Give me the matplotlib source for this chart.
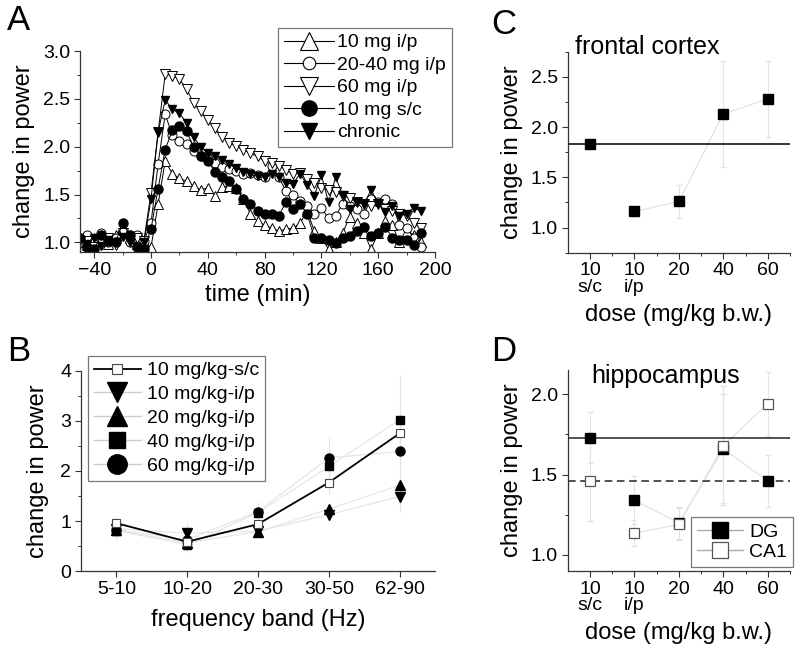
import matplotlib.pyplot as plt
from matplotlib.lines import Line2D
from matplotlib.ticker import MultipleLocator, FixedLocator

plt.rcParams['font.family'] = ['Liberation Sans', 'DejaVu Sans']

# ---------------- panel A: time course ----------------
time_min = [-50, -45, -40, -35, -30, -25, -20, -15, -10, -5,
            0, 5, 10, 15, 20, 25, 30, 35, 40, 45, 50, 55, 60, 65, 70, 75, 80, 85, 90, 95,
            100, 105, 110, 115, 120, 125, 130, 135, 140, 145, 150, 155, 160, 165, 170,
            175, 180, 185, 190]
ip10 = [1.00, 0.97, 1.05, 1.02, 0.98, 1.08, 1.15, 1.05, 0.98, 1.00,
        0.95, 1.40, 1.85, 1.72, 1.67, 1.64, 1.59, 1.55, 1.57, 1.49, 1.58, 1.59, 1.57,
        1.45, 1.30, 1.22, 1.18, 1.15, 1.12, 1.14, 1.15, 1.20, 1.33, 1.12, 1.05, 0.93,
        1.00, 1.10, 1.27, 1.20, 1.10, 0.93, 1.10, 1.22, 1.18, 1.00, 1.12, 1.08, 1.00]
ip2040 = [1.05, 1.08, 1.02, 1.10, 1.00, 1.05, 1.12, 1.00, 1.08, 1.02,
          1.20, 1.82, 2.34, 2.12, 2.06, 2.03, 1.95, 1.90, 1.87, 1.83, 1.79, 1.77, 1.75,
          1.72, 1.73, 1.70, 1.68, 1.80, 1.68, 1.54, 1.50, 1.43, 1.38, 1.30, 1.36, 1.25,
          1.28, 1.40, 1.38, 1.35, 1.30, 1.45, 1.42, 1.45, 1.40, 1.18, 1.15, 1.05, 0.95]
ip60 = [0.98, 1.02, 0.95, 1.00, 1.05, 0.97, 1.10, 1.00, 1.05, 1.02,
        1.52, 2.15, 2.76, 2.74, 2.71, 2.60, 2.46, 2.37, 2.28, 2.20, 2.10, 2.04, 2.01,
        1.97, 1.93, 1.90, 1.85, 1.83, 1.80, 1.76, 1.71, 1.73, 1.66, 1.62, 1.57, 1.55,
        1.53, 1.49, 1.46, 1.42, 1.40, 1.38, 1.40, 1.35, 1.33, 1.30, 1.28, 1.20, 1.15]
sc10 = [1.05, 0.95, 0.93, 1.08, 1.02, 1.00, 1.20, 1.08, 0.95, 0.93,
        1.14, 1.56, 1.97, 2.17, 2.22, 2.16, 2.00, 1.90, 1.85, 1.74, 1.68, 1.64, 1.56,
        1.45, 1.40, 1.33, 1.30, 1.30, 1.28, 1.42, 1.35, 1.40, 1.30, 1.05, 1.05, 1.03,
        0.99, 1.05, 1.07, 1.12, 1.16, 1.07, 1.10, 1.16, 1.05, 1.03, 1.03, 0.97, 1.10]
chronic = [1.02, 0.98, 1.05, 0.96, 1.03, 1.00, 1.06, 1.02, 0.95, 1.00,
           1.45, 2.15, 2.49, 2.39, 2.35, 2.25, 2.10, 2.00, 1.93, 1.90, 1.86, 1.82, 1.78,
           1.74, 1.71, 1.69, 1.68, 1.72, 1.68, 1.62, 1.61, 1.72, 1.60, 1.49, 1.70, 1.42,
           1.68, 1.50, 1.35, 1.42, 1.40, 1.55, 1.40, 1.32, 1.38, 1.28, 1.30, 1.36, 1.33]
labels_a = ['10 mg i/p', '20-40 mg i/p', '60 mg i/p', '10 mg s/c', 'chronic']

# ---------------- panel B: frequency bands ----------------
bands = ['5-10', '10-20', '20-30', '30-50', '62-90']
b_sc10 = [0.96, 0.59, 0.94, 1.77, 2.75]
b_ip10 = [0.85, 0.76, 0.80, 1.13, 1.49]
b_ip20 = [0.82, 0.57, 0.79, 1.24, 1.72]
b_ip40 = [0.81, 0.53, 1.17, 2.09, 3.02]
b_ip60 = [0.83, 0.63, 1.19, 2.26, 2.39]
b_sc10_err = [0.12, 0.15, 0.15, 0.25, 0.35]
b_ip10_err = [0.10, 0.20, 0.10, 0.10, 0.30]
b_ip20_err = [0.10, 0.10, 0.10, 0.10, 0.30]
b_ip40_err = [0.15, 0.15, 0.20, 0.45, 0.90]
b_ip60_err = [0.20, 0.20, 0.20, 0.40, 0.70]
labels_b = ['10 mg/kg-s/c', '10 mg/kg-i/p', '20 mg/kg-i/p', '40 mg/kg-i/p', '60 mg/kg-i/p']

# ---------------- panels C, D: dose ----------------
doses = ['10\ns/c', '10\ni/p', '20', '40', '60']
cortex = [1.83, 1.16, 1.26, 2.13, 2.28]
cortex_err = [0.05, 0.04, 0.16, 0.53, 0.38]
dg = [1.73, 1.34, 1.20, 1.66, 1.46]
dg_err = [0.16, 0.15, 0.10, 0.34, 0.16]
ca1 = [1.46, 1.135, 1.19, 1.68, 1.94]
ca1_err = [0.25, 0.08, 0.10, 0.37, 0.20]

LGRAY = '#e3e3e3'   # connecting lines / error bars, very faint in the original
TICK = 14
LAB = 17

fig = plt.figure(figsize=(8, 6.59), dpi=100)
W, H = 800, 659


def box(l, t, r, b):
    return [l / W, 1 - b / H, (r - l) / W, (b - t) / H]


def style(ax):
    for s in ['top', 'right']:
        ax.spines[s].set_visible(False)
    for s in ['left', 'bottom']:
        ax.spines[s].set_linewidth(0.9)
        ax.spines[s].set_color('#333333')
    ax.tick_params(direction='out', length=4, width=0.8, labelsize=TICK, pad=3,
                   color='#333333')
    ax.tick_params(which='minor', direction='out', length=2.5, width=0.7, color='#333333')


# ================= A =================
axA = fig.add_axes(box(80, 51, 435, 252))
style(axA)
ms = 6.5
axA.plot(time_min, ip10, '-', color='k', lw=0.7, marker='^', ms=ms, mfc='white', mec='k', mew=0.7)
axA.plot(time_min, ip2040, '-', color='k', lw=0.7, marker='o', ms=ms, mfc='white', mec='k', mew=0.7)
axA.plot(time_min, ip60, '-', color='k', lw=0.7, marker='v', ms=ms, mfc='white', mec='k', mew=0.7)
axA.plot(time_min, sc10, '-', color='k', lw=0.7, marker='o', ms=ms, mfc='k', mec='k')
axA.plot(time_min, chronic, '-', color='k', lw=0.7, marker='v', ms=ms - 0.5, mfc='k', mec='k')
axA.set_xlim(-50, 200)
axA.set_ylim(0.9, 3.0)
axA.xaxis.set_major_locator(MultipleLocator(40))
axA.xaxis.set_minor_locator(MultipleLocator(20))
axA.yaxis.set_major_locator(FixedLocator([1.0, 1.5, 2.0, 2.5, 3.0]))
axA.yaxis.set_minor_locator(MultipleLocator(0.25))
axA.yaxis.set_major_formatter(plt.FuncFormatter(lambda v, p: f'{v:.1f}'))
axA.set_xlabel('time (min)', fontsize=LAB, labelpad=4)
axA.set_ylabel('change in power', fontsize=LAB, labelpad=6)

hA = [Line2D([], [], color='k', lw=0.8, marker='^', ms=13, mfc='white', mec='k', mew=0.8),
      Line2D([], [], color='k', lw=0.8, marker='o', ms=9, mfc='white', mec='k', mew=0.8),
      Line2D([], [], color='k', lw=0.8, marker='v', ms=13, mfc='white', mec='k', mew=0.8),
      Line2D([], [], color='k', lw=0.8, marker='o', ms=11, mfc='k', mec='k'),
      Line2D([], [], color='k', lw=0.8, marker='v', ms=12, mfc='k', mec='k')]
legA = axA.legend(hA, labels_a, loc='upper left', bbox_to_anchor=(278 / W, 1 - 28 / H),
                  bbox_transform=fig.transFigure, fontsize=14, frameon=True, fancybox=False,
                  edgecolor='#777777', framealpha=1, handlelength=2.6, handletextpad=0.15,
                  labelspacing=0.25, borderpad=0.3, borderaxespad=0)
legA.get_frame().set_linewidth(0.9)

# ================= B =================
axB = fig.add_axes(box(81, 370.7, 435, 571.3))
style(axB)
xb = list(range(len(bands)))
for vals, err in [(b_ip10, b_ip10_err), (b_ip20, b_ip20_err), (b_ip40, b_ip40_err),
                  (b_ip60, b_ip60_err), (b_sc10, b_sc10_err)]:
    axB.errorbar(xb, vals, yerr=err, fmt='none', ecolor=LGRAY, elinewidth=0.8, capsize=0, zorder=1)
for vals in [b_ip10, b_ip20, b_ip40, b_ip60]:
    axB.plot(xb, vals, '-', color=LGRAY, lw=0.8, zorder=2)
axB.plot(xb, b_ip10, 'v', color='k', ms=7, zorder=3)
axB.plot(xb, b_ip20, '^', color='k', ms=7, zorder=3)
axB.plot(xb, b_ip40, 's', color='k', ms=6, zorder=3)
axB.plot(xb, b_ip60, 'o', color='k', ms=6.5, zorder=3)
axB.plot(xb, b_sc10, '-', color='k', lw=1.3, marker='s', ms=6, mfc='white', mec='#444444',
         mew=0.8, zorder=4)
axB.set_xlim(-0.5, 4.5)
axB.set_ylim(0, 4)
axB.set_xticks(xb)
axB.set_xticklabels(bands)
axB.yaxis.set_major_locator(MultipleLocator(1))
axB.yaxis.set_minor_locator(MultipleLocator(0.5))
axB.set_xlabel('frequency band (Hz)', fontsize=LAB, labelpad=8)
axB.set_ylabel('change in power', fontsize=LAB, labelpad=8)

hB = [Line2D([], [], color='k', lw=1.3, marker='s', ms=7.5, mfc='white', mec='#444444', mew=0.8),
      Line2D([], [], color='#cccccc', lw=1.0, marker='v', ms=14, mfc='k', mec='k'),
      Line2D([], [], color='#cccccc', lw=1.0, marker='^', ms=14, mfc='k', mec='k'),
      Line2D([], [], color='#cccccc', lw=1.0, marker='s', ms=12, mfc='k', mec='k'),
      Line2D([], [], color='#cccccc', lw=1.0, marker='o', ms=14, mfc='k', mec='k')]
legB = axB.legend(hB, labels_b, loc='upper left', bbox_to_anchor=(88 / W, 1 - 356 / H),
                  bbox_transform=fig.transFigure, fontsize=14, frameon=True, fancybox=False,
                  edgecolor='#777777', framealpha=1, handlelength=2.4, handletextpad=0.35,
                  labelspacing=0.32, borderpad=0.3, borderaxespad=0)
legB.get_frame().set_linewidth(0.9)

# ================= C =================
axC = fig.add_axes(box(567.7, 51.7, 790, 252.7))
style(axC)
xd = list(range(len(doses)))
axC.errorbar(xd, cortex, yerr=cortex_err, fmt='none', ecolor=LGRAY, elinewidth=0.8,
             capsize=2, zorder=1)
axC.plot(xd[1:], cortex[1:], '-', color=LGRAY, lw=0.9, zorder=2)
axC.axhline(cortex[0], color='k', lw=1.1, zorder=2)
axC.plot(xd, cortex, 's', color='k', ms=7.5, zorder=3)
axC.set_xlim(-0.5, 4.5)
axC.set_ylim(0.75, 2.75)
axC.set_xticks(xd)
axC.set_xticklabels(doses, linespacing=0.95)
axC.xaxis.set_minor_locator(FixedLocator([0.5, 1.5, 2.5, 3.5, 4.5]))
axC.yaxis.set_major_locator(FixedLocator([1.0, 1.5, 2.0, 2.5]))
axC.yaxis.set_minor_locator(MultipleLocator(0.25))
axC.yaxis.set_major_formatter(plt.FuncFormatter(lambda v, p: f'{v:.1f}'))
axC.set_xlabel('dose (mg/kg b.w.)', fontsize=LAB, labelpad=6)
axC.set_ylabel('change in power', fontsize=LAB, labelpad=6)
fig.text(575 / W, 1 - 54 / H, 'frontal cortex', fontsize=18, va='baseline')

# ================= D =================
axD = fig.add_axes(box(567.7, 370, 790, 571))
style(axD)
axD.errorbar(xd, dg, yerr=dg_err, fmt='none', ecolor=LGRAY, elinewidth=0.8, capsize=2, zorder=1)
axD.errorbar(xd, ca1, yerr=ca1_err, fmt='none', ecolor=LGRAY, elinewidth=0.8, capsize=2, zorder=1)
axD.plot(xd[1:], dg[1:], '-', color=LGRAY, lw=0.9, zorder=2)
axD.plot(xd[1:], ca1[1:], '-', color=LGRAY, lw=0.9, zorder=2)
axD.axhline(dg[0], color='#222222', lw=1.1, zorder=2)
axD.axhline(ca1[0], color='#222222', lw=1.1, ls=(0, (5, 3)), zorder=2)
axD.plot(xd, dg, 's', color='k', ms=7.5, zorder=3)
axD.plot(xd, ca1, 's', ms=7.5, mfc='white', mec='#555555', mew=0.9, zorder=4)
axD.set_xlim(-0.5, 4.5)
axD.set_ylim(0.9, 2.15)
axD.set_xticks(xd)
axD.set_xticklabels(doses, linespacing=0.95)
axD.xaxis.set_minor_locator(FixedLocator([0.5, 1.5, 2.5, 3.5, 4.5]))
axD.yaxis.set_major_locator(FixedLocator([1.0, 1.5, 2.0]))
axD.yaxis.set_minor_locator(MultipleLocator(0.25))
axD.yaxis.set_major_formatter(plt.FuncFormatter(lambda v, p: f'{v:.1f}'))
axD.set_xlabel('dose (mg/kg b.w.)', fontsize=LAB, labelpad=6)
axD.set_ylabel('change in power', fontsize=LAB, labelpad=6)
fig.text(591.7 / W, 1 - 383 / H, 'hippocampus', fontsize=18, va='baseline')

hD = [Line2D([], [], color='#aaaaaa', lw=1.0, marker='s', ms=11, mfc='k', mec='k'),
      Line2D([], [], color='#aaaaaa', lw=1.0, marker='s', ms=11, mfc='white', mec='#555555', mew=0.9)]
legD = axD.legend(hD, ['DG', 'CA1'], loc='lower right', bbox_to_anchor=(793 / W, 1 - 567 / H),
                  bbox_transform=fig.transFigure, fontsize=14, frameon=True, fancybox=False,
                  edgecolor='#777777', framealpha=1, handlelength=2.4, handletextpad=0.3,
                  labelspacing=0.15, borderpad=0.3, borderaxespad=0)
legD.get_frame().set_linewidth(0.9)

# panel letters
fig.text(7 / W, 1 - 4 / H, 'A', fontsize=25, va='top')
fig.text(7 / W, 1 - 335 / H, 'B', fontsize=25, va='top')
fig.text(491 / W, 1 - 8 / H, 'C', fontsize=25, va='top')
fig.text(491 / W, 1 - 335 / H, 'D', fontsize=25, va='top')

fig.savefig('out.png', dpi=100)
